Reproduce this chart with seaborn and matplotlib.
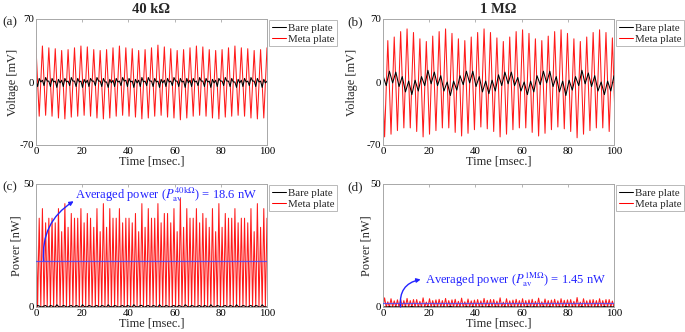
import numpy as np
import seaborn as sns
import matplotlib.pyplot as plt
from matplotlib.lines import Line2D

sns.set_theme(style="white")
plt.rcParams['font.family'] = ['Liberation Serif', 'DejaVu Serif']
plt.rcParams['mathtext.fontset'] = 'stix'
plt.rcParams['axes.unicode_minus'] = False

# half period of the excitation [msec.], 36 cycles in the 100 ms window
half_period = 100 / 72

# (a) 40 kOhm, voltage extrema [mV]
a_meta_peaks = [38, 40, 38, 37, 35, 36, 38, 40, 39, 36, 35, 36, 38, 40, 38, 37, 35, 36,
                38, 41, 39, 37, 35, 36, 38, 40, 39, 36, 35, 36, 38, 40, 38, 37, 35, 36, 38]
a_meta_troughs = [-38, -37, -38, -40, -41, -39, -38, -37, -38, -40, -41, -40,
                  -38, -37, -38, -39, -41, -40, -38, -37, -39, -40, -42, -40,
                  -38, -37, -38, -40, -41, -39, -38, -37, -38, -40, -41, -40]
# bare plate, quarter period samples (hump, trough, peak, dip)
a_bare_mv = [1, -5, 4, 0, 2, -4, 5, 1, 1, -5, 4, 0, 1, -6, 3, -1,
             2, -5, 4, 0, 1, -4, 5, 1, 1, -5, 4, 0, 1, -6, 3, -1,
             2, -5, 4, 1, 1, -4, 5, 1, 1, -5, 4, 0, 0, -6, 3, -1,
             2, -5, 4, 0, 1, -4, 5, 1, 2, -5, 4, 0, 1, -6, 3, -1,
             2, -5, 5, 0, 1, -4, 5, 1, 1, -5, 4, 0, 1, -6, 3, -1,
             2, -5, 4, 0, 1, -4, 5, 1, 1, -5, 4, 0, 1, -6, 4, -1,
             2, -5, 4, 0, 1, -4, 5, 1, 1, -5, 4, 0, 1, -6, 3, -1,
             2, -5, 4, 1, 1, -4, 5, 1, 1, -5, 4, 0, 0, -6, 3, -1,
             2, -5, 4, 0, 1, -4, 5, 1, 1, -5, 4, 0, 1, -6, 3, -1,
             1]

# (b) 1 MOhm, voltage extrema [mV]
b_meta_peaks = [42, 46, 50, 56, 59, 55, 48, 45, 51, 56, 59, 54, 48, 46, 50, 55, 59, 55, 49,
                45, 50, 56, 58, 54, 48, 46, 51, 56, 58, 54, 48, 45, 50, 55, 58, 55, 49]
b_meta_troughs = [-61, -58, -54, -51, -51, -55, -61, -58, -54, -51, -51, -56,
                  -60, -57, -53, -50, -52, -55, -61, -58, -53, -51, -51, -56,
                  -60, -57, -53, -50, -52, -55, -62, -58, -54, -51, -51, -55, -60]
b_bare_mv = [7, -4, 12, -1, 11, -5, 6, -11, 1, -14, 2, -10,
             6, -4, 13, -2, 11, -4, 7, -10, 0, -15, 1, -9,
             7, -3, 12, -1, 12, -5, 6, -11, 1, -13, 2, -10,
             8, -4, 11, -2, 11, -4, 5, -10, 0, -14, 1, -11,
             7, -3, 12, -1, 12, -5, 6, -11, 1, -15, 2, -9,
             6, -4, 13, -2, 10, -5, 7, -10, 0, -14, 1, -10,
             7]

# load resistances [kOhm] and averaged power [nW]
r_40k = 40
r_1m = 1000
p_av_40k = 18.6
p_av_1m = 1.45


def alternate(first, second):
    out = np.empty(len(first) + len(second))
    out[0::2] = first
    out[1::2] = second
    return out


def spikes(volt, r):
    # power pulses: V^2/R at each extremum, back to zero in between
    p = np.zeros(2 * len(volt) - 1)
    p[0::2] = np.asarray(volt, float) ** 2 / r
    return p


a_meta = alternate(a_meta_peaks, a_meta_troughs)
b_meta = alternate(b_meta_peaks, b_meta_troughs)
a_bare = np.array(a_bare_mv, float)
b_bare = np.array(b_bare_mv, float)

t_a = half_period * np.arange(len(a_meta))
t_a_bare = half_period / 2 * np.arange(len(a_bare))
t_b = -half_period / 2 + half_period * np.arange(len(b_meta))
t_b_bare = half_period * np.arange(len(b_bare))

c_meta = spikes(a_meta, r_40k)
d_meta = spikes(b_meta, r_1m)
t_c = half_period / 2 * np.arange(len(c_meta))
t_d = -half_period / 2 + half_period / 2 * np.arange(len(d_meta))
c_bare = a_bare ** 2 / r_40k
d_bare = b_bare ** 2 / r_1m

fig = plt.figure(figsize=(6.85, 3.32), dpi=100)
W, H = 685, 332


def make_ax(left, top, width, height):
    return fig.add_axes([left / W, 1 - (top + height) / H, width / W, height / H])


ax_a = make_ax(36, 19, 231, 126)
ax_b = make_ax(383, 19, 231, 126)
ax_c = make_ax(36, 184, 231, 123)
ax_d = make_ax(383, 184, 231, 123)

frame = '#a8a8a8'
lw = 0.75


def style(ax, ylabel, yticks, letter, lab_x, ylab_x):
    ax.set_xlim(0, 100)
    ax.set_ylim(yticks[0], yticks[-1])
    ax.set_xticks([0, 20, 40, 60, 80, 100])
    ax.set_yticks(yticks)
    ax.tick_params(direction='in', top=True, right=True, length=2.5, width=0.6,
                   color=frame, labelsize=7.8, pad=1.5, labelcolor='black')
    for s in ax.spines.values():
        s.set_color(frame)
        s.set_linewidth(0.7)
    ax.set_xlabel('Time [msec.]', fontsize=8.8)
    ax.set_ylabel(ylabel, fontsize=8.8)
    ax.xaxis.set_label_coords(0.5, -0.085)
    ax.yaxis.set_label_coords(ylab_x, 0.5)
    ax.text(lab_x, 0.975, letter, transform=ax.transAxes, fontsize=9.5,
            ha='left', va='center')
    handles = [Line2D([], [], color='black', lw=lw), Line2D([], [], color='red', lw=lw)]
    leg = ax.legend(handles, ['Bare plate', 'Meta plate'], loc='upper left',
                    bbox_to_anchor=(1.008, 0.99), fontsize=7.8, frameon=True,
                    fancybox=False, borderpad=0.25, labelspacing=0.15,
                    handlelength=1.3, handletextpad=0.2, borderaxespad=0)
    leg.get_frame().set_edgecolor(frame)
    leg.get_frame().set_linewidth(0.7)


def draw(ax, tm, meta, tb, bare):
    sns.lineplot(x=tm, y=meta, ax=ax, color='#ff1a1a', lw=lw, estimator=None, sort=False)
    sns.lineplot(x=tb, y=bare, ax=ax, color='black', lw=lw, estimator=None, sort=False)


draw(ax_a, t_a, a_meta, t_a_bare, a_bare)
draw(ax_b, t_b, b_meta, t_b_bare, b_bare)
draw(ax_c, t_c, c_meta, t_a_bare, c_bare)
draw(ax_d, t_d, d_meta, t_b_bare, d_bare)

style(ax_a, 'Voltage [mV]', [-70, 0, 70], '(a)', -0.147, -0.075)
style(ax_b, 'Voltage [mV]', [-70, 0, 70], '(b)', -0.156, -0.11)
style(ax_c, 'Power [nW]', [0, 50], '(c)', -0.147, -0.058)
style(ax_d, 'Power [nW]', [0, 50], '(d)', -0.156, -0.045)

ax_a.set_title('40 k\u03a9', fontsize=10.5, fontweight='bold', pad=4)
ax_b.set_title('1 M\u03a9', fontsize=10.5, fontweight='bold', pad=4)

blue = '#2323ff'
for ax, p_av in [(ax_c, p_av_40k), (ax_d, p_av_1m)]:
    ax.axhline(p_av, color='#4646ff', lw=0.9, alpha=0.85, zorder=5)

ax_c.annotate('', xy=(16.3, 43), xytext=(3.3, p_av_40k),
              arrowprops=dict(arrowstyle='-|>', color=blue, lw=1, mutation_scale=6,
                              shrinkA=0, shrinkB=0, connectionstyle='arc3,rad=-0.3'))
ax_c.text(17, 45.5, r'Averaged power ($P_{\mathrm{av}}^{40\mathrm{k}\Omega}$) = 18.6 nW',
          color=blue, fontsize=9, va='center', ha='left')

ax_d.annotate('', xy=(16.3, 11.2), xytext=(7.6, 0),
              arrowprops=dict(arrowstyle='-|>', color=blue, lw=1, mutation_scale=6,
                              shrinkA=0, shrinkB=0, connectionstyle='arc3,rad=-0.45'))
ax_d.text(18.3, 11.3, r'Averaged power ($P_{\mathrm{av}}^{1\mathrm{M}\Omega}$) = 1.45 nW',
          color=blue, fontsize=9, va='center', ha='left')

fig.savefig('out.png', dpi=100, facecolor='white')
